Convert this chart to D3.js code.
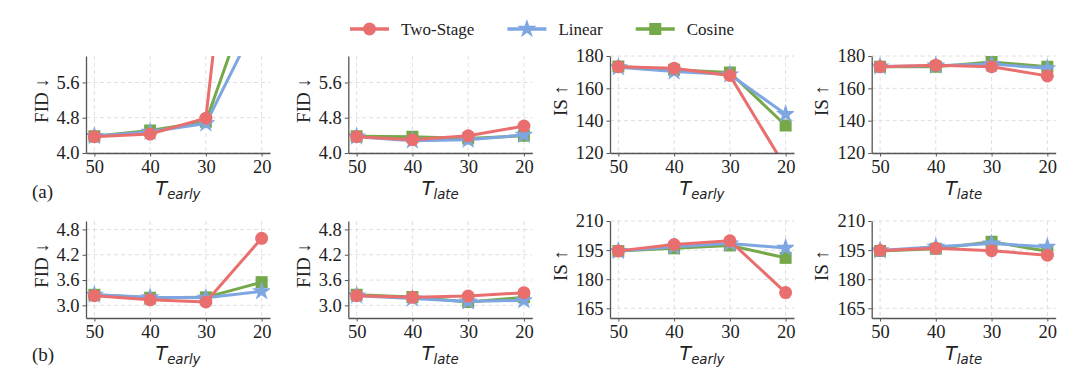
<!DOCTYPE html>
<html>
<head>
<meta charset="utf-8">
<script src="https://cdn.jsdelivr.net/npm/d3@7"></script>
<style>
  body { margin: 0; background: #fff; }
  svg text { font-family: "Liberation Serif", "Times New Roman", Times, serif; fill: #222; }
  svg text.math { font-family: "DejaVu Sans", sans-serif; font-style: italic; }
</style>
</head>
<body>
<div id="chart"></div>
<script>
// Data
const steps = [50, 40, 30, 20]
const methods = ["Two-Stage", "Linear", "Cosine"]
const colors = ["#e96f6f", "#7ea6e0", "#75a848"]

// each panel: [Two-Stage, Linear, Cosine] values at steps 50,40,30,20
const aFidEarly = [[4.37, 4.43, 4.79, 16.0], [4.38, 4.48, 4.67, 7.2], [4.38, 4.51, 4.71, 8.3]]
const aFidLate  = [[4.37, 4.30, 4.39, 4.61], [4.37, 4.28, 4.30, 4.41], [4.38, 4.37, 4.33, 4.39]]
const aIsEarly  = [[173.4, 172.4, 168.0, 111.0], [173.0, 170.4, 168.5, 144.0], [173.5, 171.5, 169.8, 137.0]]
const aIsLate   = [[173.4, 174.3, 173.4, 167.7], [173.5, 174.0, 175.0, 172.4], [173.3, 173.3, 176.3, 173.4]]
const bFidEarly = [[3.23, 3.13, 3.08, 4.59], [3.25, 3.19, 3.18, 3.33], [3.25, 3.18, 3.19, 3.55]]
const bFidLate  = [[3.23, 3.19, 3.22, 3.30], [3.23, 3.16, 3.09, 3.12], [3.25, 3.20, 3.08, 3.19]]
const bIsEarly  = [[194.6, 197.9, 199.8, 173.1], [194.5, 196.7, 198.4, 196.1], [194.5, 195.9, 197.4, 191.0]]
const bIsLate   = [[194.8, 195.9, 194.7, 192.4], [194.8, 196.7, 198.4, 196.7], [194.5, 195.7, 199.3, 194.4]]

// axis limits and ticks
const fidTicksA = [4.0, 4.8, 5.6]
const fidDomainA = [4.0, 6.2]
const isTicksA = [120, 140, 160, 180]
const isDomainA = [120, 180]
const fidTicksB = [3.0, 3.6, 4.2, 4.8]
const fidDomainB = [2.7, 5.0]
const isTicksB = [165, 180, 195, 210]
const isDomainB = [160, 210]
const xDomain = [51.5, 18.5]

// Layout
const width = 1080, height = 377
const colLeft = [86, 348.3, 610, 871.7]
const rowTop = [56, 221]
const pw = 184, ph = 97

const svg = d3.select("#chart").append("svg")
    .attr("width", width)
    .attr("height", height)

const panels = [
    {row: 0, col: 0, values: aFidEarly, ticks: fidTicksA, domain: fidDomainA, label: "FID ↓", sub: "early", fmt: d3.format(".1f")},
    {row: 0, col: 1, values: aFidLate, ticks: fidTicksA, domain: fidDomainA, label: "FID ↓", sub: "late", fmt: d3.format(".1f")},
    {row: 0, col: 2, values: aIsEarly, ticks: isTicksA, domain: isDomainA, label: "IS ↑", sub: "early", fmt: d3.format("d")},
    {row: 0, col: 3, values: aIsLate, ticks: isTicksA, domain: isDomainA, label: "IS ↑", sub: "late", fmt: d3.format("d")},
    {row: 1, col: 0, values: bFidEarly, ticks: fidTicksB, domain: fidDomainB, label: "FID ↓", sub: "early", fmt: d3.format(".1f")},
    {row: 1, col: 1, values: bFidLate, ticks: fidTicksB, domain: fidDomainB, label: "FID ↓", sub: "late", fmt: d3.format(".1f")},
    {row: 1, col: 2, values: bIsEarly, ticks: isTicksB, domain: isDomainB, label: "IS ↑", sub: "early", fmt: d3.format("d")},
    {row: 1, col: 3, values: bIsLate, ticks: isTicksB, domain: isDomainB, label: "IS ↑", sub: "late", fmt: d3.format("d")}
]

function drawMarker(sel, i) {
    if (i === 0) return sel.append("circle").attr("r", 6.5)
    if (i === 1) return sel.append("path").attr("d", d3.symbol(d3.symbolStar, 115)())
    return sel.append("path").attr("d", d3.symbol(d3.symbolSquare, 144)())
}

panels.forEach((p, pi) => {
    const g = svg.append("g")
        .attr("transform", `translate(${colLeft[p.col]},${rowTop[p.row]})`)

    const xScale = d3.scaleLinear().domain(xDomain).range([0, pw])
    const yScale = d3.scaleLinear().domain(p.domain).range([ph, 0])

    // grid
    g.append("g").selectAll("line")
        .data(steps)
        .join("line")
        .attr("x1", d => xScale(d)).attr("x2", d => xScale(d))
        .attr("y1", 0).attr("y2", ph)
        .attr("stroke", "#dedede").attr("stroke-width", 1)
        .attr("stroke-dasharray", "4,3")
    g.append("g").selectAll("line")
        .data(p.ticks)
        .join("line")
        .attr("x1", 0).attr("x2", pw)
        .attr("y1", d => yScale(d)).attr("y2", d => yScale(d))
        .attr("stroke", "#dedede").attr("stroke-width", 1)
        .attr("stroke-dasharray", "4,3")

    // clip
    const clipId = "clip" + pi
    g.append("clipPath").attr("id", clipId)
        .append("rect").attr("width", pw).attr("height", ph)

    const plot = g.append("g").attr("clip-path", `url(#${clipId})`)
    const line = d3.line().x((d, i) => xScale(steps[i])).y(d => yScale(d))

    // draw order: Cosine, Linear, Two-Stage on top
    ;[2, 1, 0].forEach(mi => {
        const vals = p.values[mi]
        plot.append("path")
            .attr("d", line(vals))
            .attr("fill", "none")
            .attr("stroke", colors[mi])
            .attr("stroke-width", 3)
            .attr("stroke-linejoin", "round")
        vals.forEach((v, i) => {
            const m = plot.append("g")
                .attr("transform", `translate(${xScale(steps[i])},${yScale(v)})`)
                .attr("fill", colors[mi])
            drawMarker(m, mi)
        })
    })

    // axes
    const xAxis = d3.axisBottom(xScale).tickValues(steps).tickSize(3.5).tickSizeOuter(0).tickPadding(3)
    const yAxis = d3.axisLeft(yScale).tickValues(p.ticks).tickFormat(p.fmt).tickSize(3.5).tickSizeOuter(0).tickPadding(3)

    const xg = g.append("g").attr("transform", `translate(0,${ph})`).call(xAxis)
    const yg = g.append("g").call(yAxis)
    ;[xg, yg].forEach(a => {
        a.attr("font-family", null).attr("font-size", null)
        a.select(".domain").attr("stroke", "#555").attr("stroke-width", 1.3)
        a.selectAll(".tick line").attr("stroke", "#555").attr("stroke-width", 1)
        a.selectAll(".tick text")
            .style("font-size", "18.5px")
            .attr("fill", "#222")
    })

    // x label: T with subscript
    const xl = g.append("text")
        .attr("class", "math")
        .attr("x", pw / 2)
        .attr("y", ph + 41.5)
        .attr("text-anchor", "middle")
        .style("font-size", "19px")
    xl.append("tspan").text("T")
    xl.append("tspan").style("font-size", "13.3px").attr("dy", 4).text(p.sub)

    // y label
    const labelOffset = p.label.startsWith("FID") ? 44.5 : 50
    g.append("text")
        .attr("transform", `translate(${-labelOffset},${ph / 2 - 4}) rotate(-90)`)
        .attr("text-anchor", "middle")
        .attr("dy", "0.35em")
        .style("font-size", "19px")
        .text(p.label)
})

// row labels
svg.append("text").attr("x", 32).attr("y", 198).style("font-size", "19px").text("(a)")
svg.append("text").attr("x", 32).attr("y", 361).style("font-size", "19px").text("(b)")

// Legend
const legend = svg.append("g").attr("transform", "translate(350,29)")
let lx = 0
methods.forEach((name, i) => {
    const item = legend.append("g").attr("transform", `translate(${lx},0)`)
    item.append("line")
        .attr("x1", 0).attr("x2", 39)
        .attr("stroke", colors[i]).attr("stroke-width", 3.5)
    const m = item.append("g").attr("transform", "translate(19.5,0)").attr("fill", colors[i])
    drawMarker(m, i)
    const t = item.append("text")
        .attr("x", 51)
        .attr("dy", "0.35em")
        .style("font-size", "17px")
        .text(name)
    lx += 51 + t.node().getComputedTextLength() + 33
})
</script>
</body>
</html>
